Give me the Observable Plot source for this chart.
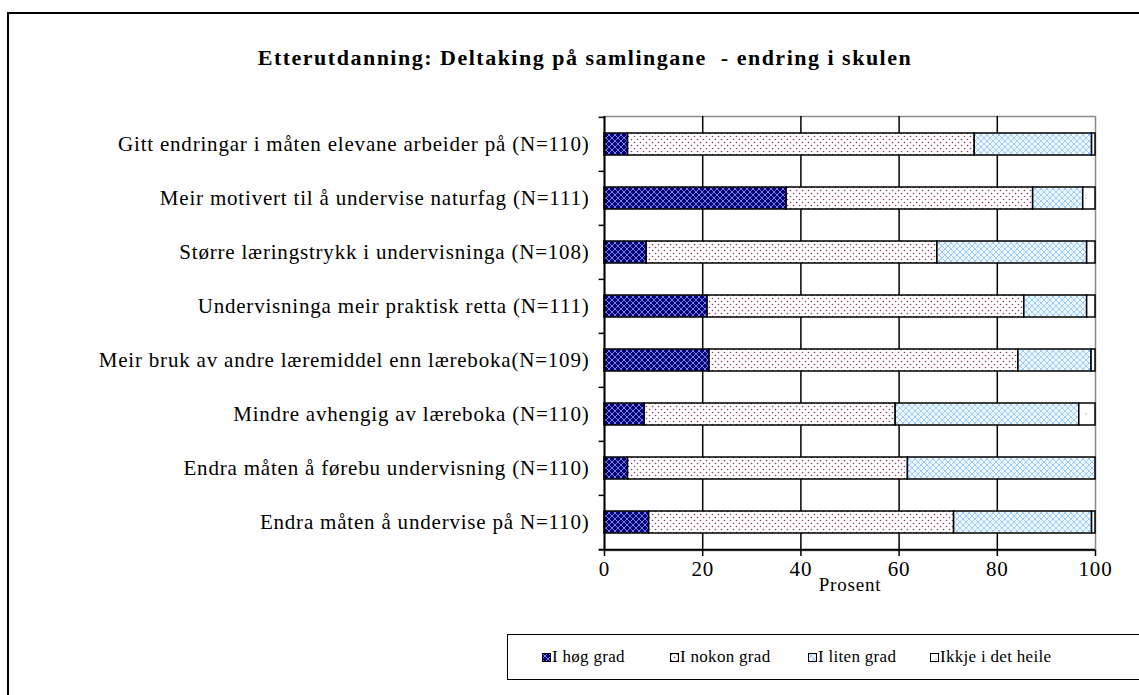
<!DOCTYPE html>
<html>
<head>
<meta charset="utf-8">
<script src="https://cdn.jsdelivr.net/npm/d3@7"></script>
<script src="https://cdn.jsdelivr.net/npm/@observablehq/plot@0.6"></script>
<style>
  html, body { margin: 0; padding: 0; background: #fff; }
  #page { position: relative; width: 1139px; height: 695px; overflow: hidden; font-family: "Liberation Serif", serif; color: #000; }
  #frame { position: absolute; left: 7px; top: 12px; width: 1200px; height: 800px; border: 2px solid #000; box-sizing: border-box; }
  #title { position: absolute; left: 0; width: 1170px; top: 45px; text-align: center; font-weight: bold; font-size: 22px; letter-spacing: 1.5px; white-space: pre; }
  #chart { position: absolute; left: 0; top: 0; }
  #legend { position: absolute; left: 507px; top: 634px; width: 700px; height: 46px; border: 1.5px solid #000; box-sizing: border-box; }
  .li { position: absolute; top: 12px; font-size: 17px; letter-spacing: 0.3px; white-space: nowrap; display: flex; align-items: center; }
  .li svg { margin-right: 1px; }
</style>
</head>
<body>
<svg width="0" height="0" style="position:absolute">
  <defs>
    <pattern id="pHog" width="6" height="6" patternUnits="userSpaceOnUse">
      <rect width="6" height="6" fill="#000080"/>
      <path d="M0,0L6,6M6,0L0,6" stroke="#c8c8ff" stroke-width="0.8" opacity="0.8"/>
    </pattern>
    <pattern id="pNokon" width="6" height="6" patternUnits="userSpaceOnUse">
      <rect width="6" height="6" fill="#fff"/>
      <circle cx="1.5" cy="1.5" r="0.8" fill="#993366"/>
      <circle cx="4.5" cy="4.5" r="0.8" fill="#993366"/>
    </pattern>
    <pattern id="pLiten" width="6" height="6" patternUnits="userSpaceOnUse">
      <rect width="6" height="6" fill="#eef6ff"/>
      <path d="M0,0L6,6M6,0L0,6" stroke="#99ccff" stroke-width="1"/>
    </pattern>
    <pattern id="pIkkje" width="12" height="12" patternUnits="userSpaceOnUse">
      <rect width="12" height="12" fill="#fff"/>
      <circle cx="6" cy="6" r="0.7" fill="#aaa"/>
    </pattern>
  </defs>
</svg>
<div id="page">
  <div id="frame"></div>
  <div id="title">Etterutdanning: Deltaking på samlingane  - endring i skulen</div>
  <div id="chart"></div>
  <div id="legend"></div>
</div>
<script>
const items = [
  "Gitt endringar i måten elevane arbeider på (N=110)",
  "Meir motivert til å undervise naturfag (N=111)",
  "Større læringstrykk i undervisninga (N=108)",
  "Undervisninga meir praktisk retta (N=111)",
  "Meir bruk av andre læremiddel enn læreboka(N=109)",
  "Mindre avhengig av læreboka (N=110)",
  "Endra måten å førebu undervisning (N=110)",
  "Endra måten å undervise på N=110)"
];
const grades = ["I høg grad", "I nokon grad", "I liten grad", "Ikkje i det heile"];
const hog   = [4.8, 37.1, 8.6, 21.0, 21.4, 8.2, 4.8, 9.1];
const nokon = [70.6, 50.2, 59.2, 64.5, 62.9, 51.1, 57.0, 62.1];
const liten = [23.9, 10.2, 30.5, 12.8, 14.9, 37.4, 38.2, 28.1];
const ikkje = [0.7, 2.5, 1.7, 1.7, 0.8, 3.3, 0.0, 0.7];
const xTicks = [0, 20, 40, 60, 80, 100];
const gridTicks = [20, 40, 60, 80];
const patterns = ["url(#pHog)", "url(#pNokon)", "url(#pLiten)", "url(#pIkkje)"];

const series = [hog, nokon, liten, ikkje];
const data = [];
items.forEach((item, i) => {
  grades.forEach((g, j) => data.push({item, grade: g, value: series[j][i]}));
});

const W = 1139, H = 620, mTop = 116, mBottom = 70, mLeft = 604, mRight = 44;
const step = (H - mTop - mBottom) / items.length;

const chart = Plot.plot({
  width: W, height: H,
  marginTop: mTop, marginBottom: mBottom, marginLeft: mLeft, marginRight: mRight,
  style: {fontFamily: "Liberation Serif", fontSize: "16px", background: "transparent", color: "#000", letterSpacing: "0.8px"},
  x: {domain: [0, 100]},
  y: {domain: items, paddingInner: 0.6, paddingOuter: 0.3},
  color: {type: "ordinal", domain: grades, range: patterns},
  marks: [
    Plot.frame({stroke: "#8a8a8a", strokeWidth: 1.5}),
    Plot.ruleX(gridTicks, {stroke: "#000", strokeWidth: 1.5}),
    Plot.barX(data, Plot.stackX({y: "item", x: "value", fill: "grade", order: null, stroke: "#000", strokeWidth: 1.5})),
    Plot.ruleX([0], {stroke: "#000", strokeWidth: 2}),
    Plot.ruleY(items, {y: d => d, x1: -1.1, x2: 0, dy: -step / 2, stroke: "#000", strokeWidth: 1.5}),
    Plot.ruleY([items[items.length - 1]], {y: d => d, x1: -1.1, x2: 100, dy: step / 2, stroke: "#000", strokeWidth: 2}),
    Plot.axisX({ticks: xTicks, tickSize: 6, tickPadding: 5, fontSize: 21, label: null, strokeWidth: 1.5}),
    Plot.axisY({tickSize: 0, tickPadding: 15, fontSize: 21, label: null}),
    Plot.text(["Prosent"], {text: d => d, frameAnchor: "bottom", dy: 40, fontSize: 19})
  ]
});
document.getElementById("chart").appendChild(chart);

const legend = document.getElementById("legend");
const legendX = [34, 162, 300, 422];
grades.forEach((g, j) => {
  const el = document.createElement("div");
  el.className = "li";
  el.style.left = legendX[j] + "px";
  el.innerHTML = `<svg width="9" height="9"><rect x="0.5" y="0.5" width="8" height="8" fill="${patterns[j]}" stroke="#000" stroke-width="1"/></svg><span>${g}</span>`;
  legend.appendChild(el);
});
</script>
</body>
</html>
